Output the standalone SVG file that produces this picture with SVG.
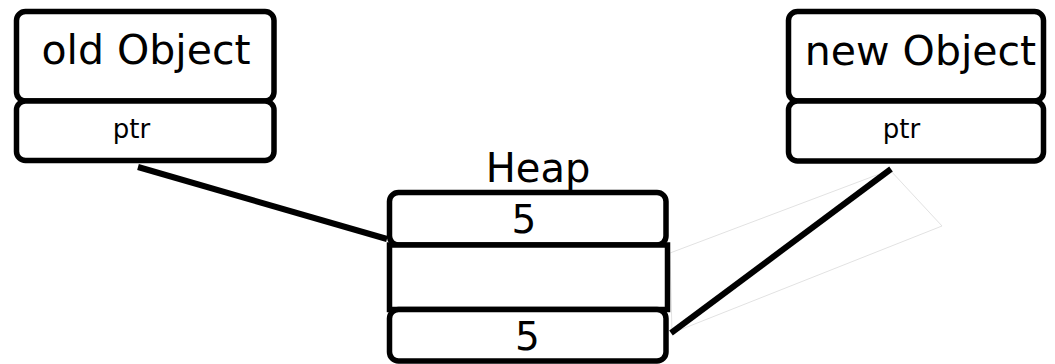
<svg xmlns="http://www.w3.org/2000/svg" width="1055" height="364" viewBox="0 0 1055 364">
<style>
.box{fill:#fff;stroke:#000;stroke-width:5.5}
.t{font-family:"DejaVu Sans",sans-serif;fill:#000;text-anchor:middle}
.big{font-size:41px}
.small{font-size:26px}
.num{font-size:39px}
.conn{stroke:#000;stroke-width:6;fill:none}
</style>
<g id="ghost">
<polygon points="670,253 890,170 942,226 672,333" fill="none" stroke="#e2e2e2" stroke-width="1"/>
</g>
<g id="old-object">
<rect class="box" x="16.5" y="11.5" width="257.5" height="89.5" rx="9"/>
<rect class="box" x="16.5" y="101" width="257.5" height="59.5" rx="9"/>
<text class="t big" x="146" y="64">old Object</text>
<text class="t small" x="131.5" y="138">ptr</text>
</g>
<g id="new-object">
<rect class="box" x="788.5" y="11.5" width="255" height="89.5" rx="9"/>
<rect class="box" x="788.5" y="101" width="255" height="60" rx="9"/>
<text class="t big" x="920.5" y="65">new Object</text>
<text class="t small" x="901.5" y="138">ptr</text>
</g>
<g id="heap">
<text class="t big" x="538" y="182" style="font-size:40px">Heap</text>
<rect class="box" x="389.5" y="192.5" width="276.5" height="52.5" rx="9"/>
<rect class="box" x="389.5" y="245" width="278" height="64.5"/>
<rect class="box" x="389.5" y="309.5" width="276.5" height="51.5" rx="9"/>
<text class="t num" x="524" y="233">5</text>
<text class="t num" x="527.5" y="350">5</text>
</g>
<g id="connectors">
<line class="conn" x1="138" y1="167" x2="387" y2="239"/>
<line class="conn" x1="891" y1="169" x2="671" y2="333"/>
</g>
</svg>
